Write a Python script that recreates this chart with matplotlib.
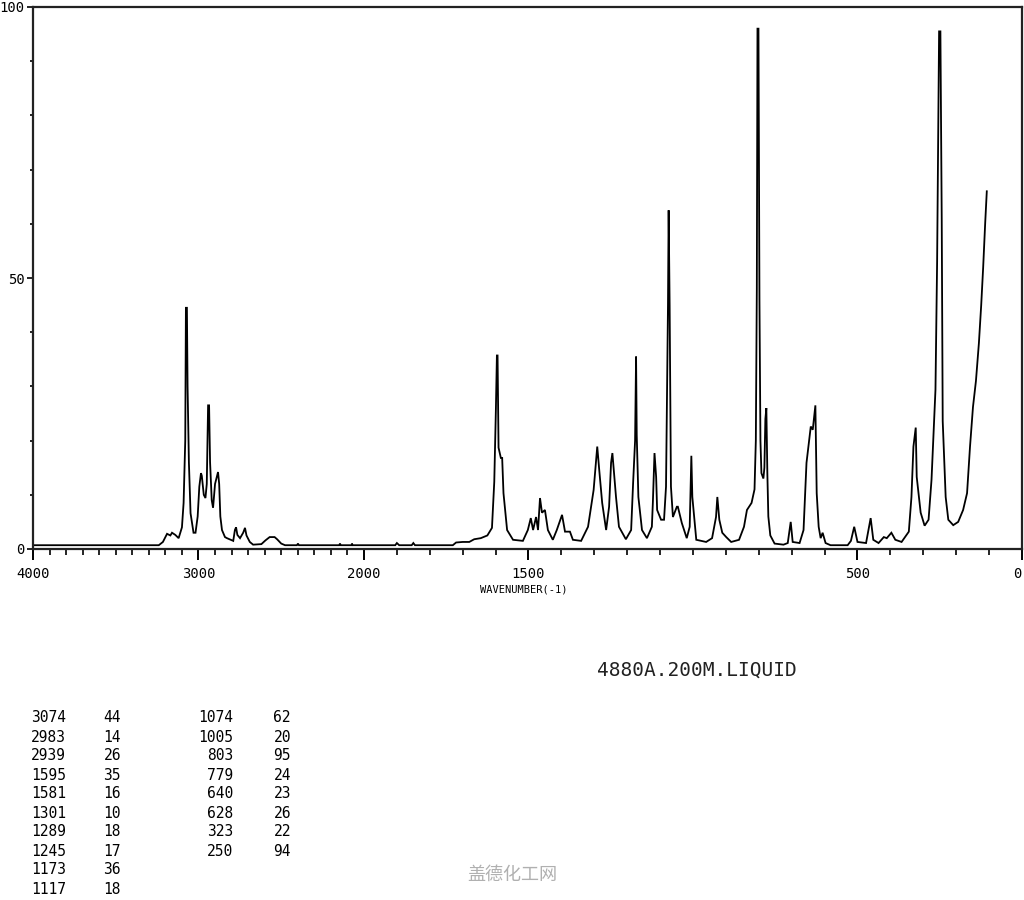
import numpy as np
import matplotlib
matplotlib.use("Agg")
import matplotlib.pyplot as plt
from matplotlib.ticker import FixedLocator, MultipleLocator

# ---- spectrum trace (wavenumber cm-1, relative intensity) ----
wavenumber = [
    4000, 3240, 3215, 3190, 3170, 3160, 3140, 3120, 3100, 3090, 3080, 3076, 3070, 3066, 3058, 3048,
    3030, 3018, 3005, 2995, 2985, 2980, 2968, 2958, 2950, 2942, 2936, 2930, 2920, 2912, 2900, 2892,
    2882, 2875, 2868, 2858, 2840, 2828, 2790, 2780, 2773, 2765, 2749, 2730, 2719, 2710, 2690, 2670,
    2620, 2595, 2570, 2540, 2525, 2500, 2477, 2405, 2399, 2393, 2150, 2145, 2140, 2075, 2073, 2068,
    1905, 1900, 1893, 1855, 1850, 1845, 1730, 1720, 1700, 1680, 1665, 1645, 1625, 1611, 1604, 1599,
    1596, 1594, 1591, 1584, 1580, 1576, 1565, 1547, 1517, 1502, 1493, 1486, 1477, 1471, 1465, 1459,
    1450, 1441, 1426, 1414, 1398, 1389, 1374, 1365, 1340, 1319, 1308, 1302, 1291, 1285, 1276, 1264,
    1255, 1249, 1245, 1234, 1225, 1204, 1188, 1182, 1176, 1173, 1171, 1166, 1155, 1140, 1125, 1122,
    1117, 1112, 1109, 1097, 1088, 1082, 1076, 1074, 1071, 1067, 1061, 1049, 1046, 1034, 1019, 1010,
    1005, 1002, 990, 960, 942, 930, 926, 920, 911, 899, 884, 860, 845, 836, 822, 813,
    809, 806, 804, 801, 798, 795, 792, 786, 783, 780, 777, 774, 771, 765, 752, 725,
    712, 703, 697, 676, 664, 655, 642, 636, 628, 624, 618, 612, 606, 597, 582, 530,
    520, 510, 500, 474, 460, 452, 436, 420, 411, 397, 385, 366, 344, 336, 330, 323,
    320, 308, 296, 284, 275, 263, 258, 252, 248, 244, 241, 232, 224, 209, 194, 179,
    167, 158, 149, 140, 131, 124, 118, 112, 107,
]
intensity = [
    0.7, 0.7, 1.3, 2.8, 2.5, 3.0, 2.6, 2.0, 4.0, 8.5, 20.0, 44.5, 44.5, 30.0, 16.0, 6.6,
    3.0, 3.0, 6.0, 11.5, 14.0, 13.5, 10.0, 9.4, 12.0, 26.5, 26.5, 16.0, 9.0, 7.6, 12.0, 13.0,
    14.2, 12.0, 6.0, 3.5, 2.2, 2.0, 1.5, 3.5, 4.0, 2.6, 2.0, 3.0, 3.9, 2.5, 1.3, 0.8,
    0.9, 1.6, 2.2, 2.2, 1.8, 1.0, 0.7, 0.7, 1.0, 0.7, 0.7, 1.0, 0.7, 0.7, 1.0, 0.7,
    0.7, 1.1, 0.7, 0.7, 1.1, 0.7, 0.7, 1.2, 1.3, 1.3, 1.8, 2.0, 2.5, 3.9, 12.4, 26.0,
    35.7, 35.7, 18.7, 16.8, 16.8, 10.3, 3.5, 1.7, 1.5, 3.5, 5.7, 3.5, 5.9, 3.5, 9.4, 6.7,
    7.2, 3.5, 1.7, 3.5, 6.3, 3.2, 3.2, 1.7, 1.5, 4.1, 8.5, 10.9, 18.9, 14.6, 8.5, 3.5,
    7.8, 15.9, 17.7, 9.6, 4.1, 1.8, 3.5, 12.2, 20.0, 35.5, 21.0, 9.6, 3.5, 2.0, 4.1, 8.5,
    17.7, 13.3, 7.2, 5.4, 5.4, 11.5, 45.0, 62.5, 45.0, 11.5, 5.9, 7.8, 7.8, 4.8, 2.0, 4.1,
    17.2, 9.6, 1.7, 1.3, 2.0, 5.9, 9.6, 5.4, 3.0, 2.2, 1.3, 1.7, 4.1, 7.2, 8.5, 11.0,
    20.0, 48.0, 96.0, 96.0, 46.0, 20.0, 14.0, 13.0, 15.0, 24.0, 26.0, 14.0, 6.0, 2.5, 1.0, 0.8,
    1.1, 5.0, 1.3, 1.1, 3.5, 15.9, 22.6, 22.0, 26.5, 10.3, 4.1, 2.0, 3.0, 1.1, 0.7, 0.7,
    1.5, 4.1, 1.3, 1.1, 5.7, 1.7, 1.1, 2.2, 2.0, 3.0, 1.7, 1.3, 3.2, 9.6, 18.9, 22.4,
    13.3, 6.7, 4.3, 5.4, 12.8, 29.4, 53.0, 95.5, 95.5, 61.0, 23.6, 9.6, 5.4, 4.4, 5.0, 7.2,
    10.3, 18.9, 26.2, 31.0, 38.0, 45.0, 52.0, 60.0, 66.0,
]

# ---- axis ticks ----
x_major = [4000, 3000, 2000, 1500, 500, 0]
x_major_labels = ["4000", "3000", "2000", "1500", "500", "0"]
y_labeled = [0, 50, 100]
y_labels = ["0", "50", "100"]

# ---- peak table ----
peak_wn_1 = ["3074", "2983", "2939", "1595", "1581", "1301", "1289", "1245", "1173", "1117"]
peak_int_1 = ["44", "14", "26", "35", "16", "10", "18", "17", "36", "18"]
peak_wn_2 = ["1074", "1005", "803", "779", "640", "628", "323", "250"]
peak_int_2 = ["62", "20", "95", "24", "23", "26", "22", "94"]

sample_info = "4880A.200M.LIQUID"
x_title = "WAVENUMBER(-1)"
watermark = "盖德化工网"

mono = "DejaVu Sans Mono"
K = 0.503  # compression of the range above 2000 cm-1

def fwd(x):
    x = np.asarray(x, dtype=float)
    return np.where(x <= 2000, x, 2000 + (x - 2000) * K)

def inv(t):
    t = np.asarray(t, dtype=float)
    return np.where(t <= 2000, t, 2000 + (t - 2000) / K)

fig = plt.figure(figsize=(10.24, 9.0), dpi=100)
fig.patch.set_facecolor("white")
ax = fig.add_axes([33 / 1024, 1 - 549 / 900, (1022 - 33) / 1024, (549 - 7) / 900])
ax.set_xscale("function", functions=(fwd, inv))
ax.plot(wavenumber, intensity, color="black", lw=1.3, solid_joinstyle="miter")
ax.set_xlim(4000, 0)
ax.set_ylim(0, 100)

for s in ax.spines.values():
    s.set_linewidth(1.6)
    s.set_color("#222222")

ax.xaxis.set_major_locator(FixedLocator(x_major))
ax.set_xticklabels(x_major_labels, fontfamily=mono, fontsize=10)
ax.get_xticklabels()[-1].set_horizontalalignment("right")
ax.xaxis.set_minor_locator(FixedLocator(list(range(0, 4001, 100))))
ax.tick_params(axis="x", which="major", direction="out", length=8, width=1.4, pad=5)
ax.tick_params(axis="x", which="minor", direction="out", length=4.5, width=1.2)

ax.yaxis.set_major_locator(FixedLocator(y_labeled))
ax.set_yticklabels(y_labels, fontfamily=mono, fontsize=10)
ax.yaxis.set_minor_locator(MultipleLocator(10))
ax.tick_params(axis="y", which="major", direction="out", length=4, width=1.2, pad=2)
ax.tick_params(axis="y", which="minor", direction="out", length=2, width=1.2)

fig.text(524 / 1024, 1 - 590 / 900, x_title, fontfamily=mono, fontsize=7.5,
         ha="center", va="center")
fig.text(697 / 1024, 1 - 670 / 900, sample_info, fontfamily=mono, fontsize=14,
         ha="center", va="center", color="#222222")

row_y0 = 718
row_dy = 19
for i, (a, b) in enumerate(zip(peak_wn_1, peak_int_1)):
    y = 1 - (row_y0 + i * row_dy) / 900
    fig.text(66 / 1024, y, a, fontfamily=mono, fontsize=10.5, ha="right", va="center")
    fig.text(121 / 1024, y, b, fontfamily=mono, fontsize=10.5, ha="right", va="center")
for i, (a, b) in enumerate(zip(peak_wn_2, peak_int_2)):
    y = 1 - (row_y0 + i * row_dy) / 900
    fig.text(233 / 1024, y, a, fontfamily=mono, fontsize=10.5, ha="right", va="center")
    fig.text(291 / 1024, y, b, fontfamily=mono, fontsize=10.5, ha="right", va="center")

fig.text(512 / 1024, 1 - 875 / 900, watermark, fontfamily=["Noto Sans CJK SC", "DejaVu Sans"],
         fontsize=13, ha="center", va="center", color="#b0b0b0")

fig.savefig("out.png", dpi=100, facecolor="white")
